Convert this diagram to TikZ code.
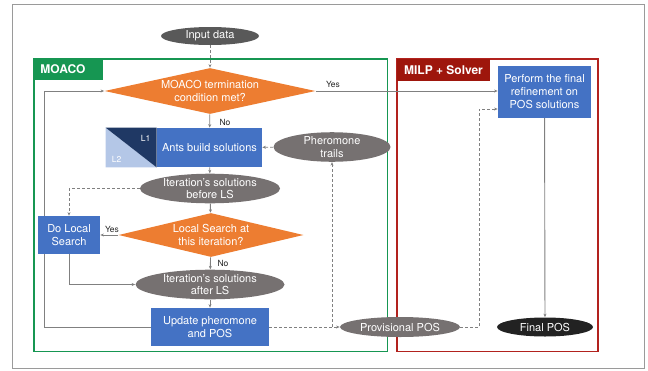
\documentclass[tikz,border=0pt]{standalone}
\usepackage{fontspec}
\setmainfont{TeX Gyre Heros}
\usetikzlibrary{shapes.geometric,arrows.meta,backgrounds}

\definecolor{boxblue}{RGB}{68,114,196}
\definecolor{condorange}{RGB}{237,125,49}
\definecolor{datagray}{RGB}{118,113,113}
\definecolor{inputgray}{RGB}{89,89,89}
\definecolor{finalblack}{RGB}{34,34,34}
\definecolor{moacogreen}{RGB}{22,150,82}
\definecolor{milpred}{RGB}{158,22,12}
\definecolor{milpframe}{RGB}{178,34,30}
\definecolor{layerdark}{RGB}{31,56,100}
\definecolor{layerlight}{RGB}{180,199,231}
\definecolor{linegray}{RGB}{128,128,128}

\tikzset{every picture/.style={line width=0.75pt},
  txt/.style={font=\fontsize{11}{12.7}\selectfont, text=white, align=center, inner sep=0pt},
  procbox/.style={txt, rectangle, fill=boxblue},
  cond/.style={txt, diamond, fill=condorange},
  datum/.style={txt, ellipse, fill=datagray},
  lbl/.style={font=\fontsize{8.5}{10}\selectfont, text=black!85, inner sep=0pt},
  tag/.style={font=\fontsize{12}{14}\selectfont\bfseries, text=white, inner sep=0pt},
  flow/.style={draw=linegray, line width=0.9pt, -{Stealth[length=3.5pt,width=3pt]}},
  feed/.style={flow, dash pattern={on 3pt off 2pt}},
}

\begin{document}
\begin{tikzpicture}[x=1pt,y=1pt,yscale=-1,xscale=1]
	\useasboundingbox (0,0) rectangle (648,370);
	
	% Data and process nodes
	\draw (210,36) node [datum, fill=inputgray, minimum width=98pt, minimum height=18pt] (input) {Input data};
	\draw (210,91) node [cond, aspect=4.6, minimum width=211pt, minimum height=46pt] (moaco) {MOACO termination\\condition met?};
	\draw (209.5,147.5) node [procbox, minimum width=105pt, minimum height=39pt] (ants) {Ants build solutions};
	\draw (332,147) node [datum, minimum width=117pt, minimum height=29pt] (pher) {Pheromone\\trails};
	\draw (210,188.5) node [datum, minimum width=140pt, minimum height=27pt] (before) {Iteration's solutions\\before LS};
	\draw (211,235) node [cond, aspect=4.2, minimum width=185pt, minimum height=44pt] (lsq) {Local Search at\\this iteration?};
	\draw (69,235) node [procbox, minimum width=62pt, minimum height=38pt] (dls) {Do Local\\Search};
	\draw (210,284.5) node [datum, minimum width=149pt, minimum height=26pt] (after) {Iteration's solutions\\after LS};
	\draw (210,327) node [procbox, minimum width=118pt, minimum height=38pt] (update) {Update pheromone\\and POS};
	\draw (400,327) node [datum, minimum width=120pt, minimum height=20pt] (prov) {Provisional POS};
	\draw (544.5,91.5) node [procbox, minimum width=93pt, minimum height=52pt] (perform) {Perform the final\\refinement on\\POS solutions};
	\draw (545,327) node [datum, fill=finalblack, minimum width=96pt, minimum height=19pt] (final) {Final POS};
	
	% Layer square of the ants box
	\fill [layerlight] ([xshift=-51pt]ants.north west) -- ([xshift=-51pt]ants.south west) -- (ants.south west) -- cycle;
	\fill [layerdark] ([xshift=-51pt]ants.north west) -- (ants.north west) -- (ants.south west) -- cycle;
	\draw (145.5,138) node [lbl, text=white] (lone) {L1};
	\draw (116.5,159) node [lbl, text=white] (ltwo) {L2};
	
	% Branch labels
	\draw (333,84) node [lbl] (yesa) {Yes};
	\draw (225,122) node [lbl] (noa) {No};
	\draw (112,229) node [lbl] (yesb) {Yes};
	\draw (223,263) node [lbl] (nob) {No};
	
	\begin{scope}[on background layer]
	% Frames
	\draw [linegray!80, line width=0.9pt] (12,4) rectangle (644.5,368);
	\draw [moacogreen, line width=1.3pt] (34,59) rectangle (387.5,351.5);
	\fill [moacogreen] (34,59) rectangle (102.5,80);
	\draw [milpframe, line width=1.3pt] (397,59) rectangle (598,351.5);
	\fill [milpred] (397,59) rectangle (490,80.5);
	
	% Connectors
	\draw [feed] (input) -- (moaco);
	\draw [flow] (moaco) -- (ants);
	\draw [flow] (moaco.east) -- (moaco.east -| perform.west);
	\draw [feed] (pher) -- (ants);
	\draw [flow] (ants) -- (before);
	\draw [flow] (before) -- (lsq);
	\draw [feed] (before.west) -| (dls.north);
	\draw [flow] (lsq.west) -- (dls.east);
	\draw [flow] (lsq) -- (after);
	\draw [flow] (dls.south) |- (after.west);
	\draw [flow] (after) -- (update);
	\draw [flow] (update.west) -- ++(-106,0) |- (moaco.west);
	\draw [feed] (update.east) -- (prov.west);
	\draw [feed] (pher.south |- update.east) -- (pher.south);
	\draw [feed] (prov.east) -- ++(19,0) |- ([yshift=17.5pt]perform.west);
	\draw [flow] (perform) -- (final);
	\end{scope}
	
	% Frame titles
	\draw (40,69.5) node [tag, anchor=west] (moacotag) {MOACO};
	\draw (443.5,70) node [tag] (milptag) {MILP + Solver};
	
\end{tikzpicture}
\end{document}
